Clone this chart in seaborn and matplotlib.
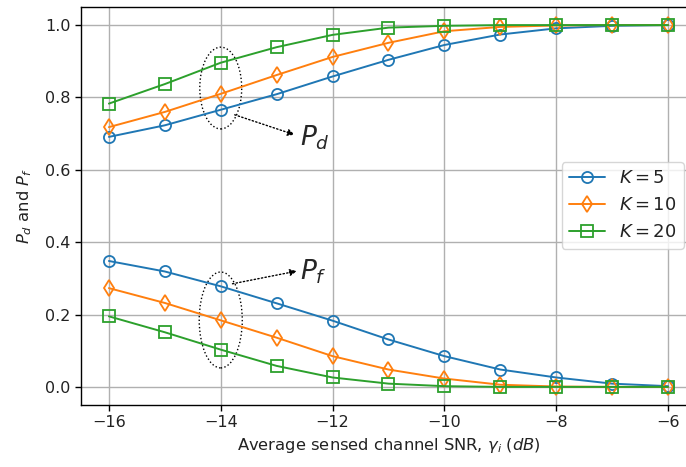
import matplotlib
matplotlib.use("Agg")
import matplotlib.pyplot as plt
from matplotlib.patches import Ellipse
import seaborn as sns
import numpy as np

snr = [-16, -15, -14, -13, -12, -11, -10, -9, -8, -7, -6]
labels = ["$K = 5$", "$K = 10$", "$K = 20$"]
pd_k5 = [0.691, 0.723, 0.766, 0.809, 0.858, 0.904, 0.945, 0.974, 0.991, 0.998, 1.0]
pd_k10 = [0.718, 0.760, 0.810, 0.862, 0.912, 0.951, 0.983, 0.995, 0.999, 1.0, 1.0]
pd_k20 = [0.783, 0.837, 0.896, 0.939, 0.973, 0.993, 0.998, 1.0, 1.0, 1.0, 1.0]
pf_k5 = [0.348, 0.319, 0.278, 0.231, 0.183, 0.131, 0.085, 0.048, 0.026, 0.009, 0.002]
pf_k10 = [0.273, 0.232, 0.184, 0.136, 0.085, 0.048, 0.023, 0.006, 0.001, 0.0, 0.0]
pf_k20 = [0.195, 0.151, 0.103, 0.058, 0.026, 0.009, 0.002, 0.0, 0.0, 0.0, 0.0]

sns.set_style("ticks")
plt.rcParams['font.family'] = ['DejaVu Sans']
plt.rcParams['mathtext.fontset'] = 'dejavusans'

fig = plt.figure(figsize=(6.86, 4.67), dpi=100)
ax = fig.add_axes([0.118, 0.1328, 1.0146 - 0.118, 0.985 - 0.1328])

colors = ['#1f77b4', '#ff7f0e', '#2ca02c']
markers = ['o', 'd', 's']
pds = [pd_k5, pd_k10, pd_k20]
pfs = [pf_k5, pf_k10, pf_k20]

for i in range(3):
    sns.lineplot(x=snr, y=pds[i], ax=ax, color=colors[i], marker=markers[i],
                 markersize=8, markerfacecolor='none', markeredgecolor=colors[i],
                 markeredgewidth=1.3, linewidth=1.4, label=labels[i])
for i in range(3):
    sns.lineplot(x=snr, y=pfs[i], ax=ax, color=colors[i], marker=markers[i],
                 markersize=8, markerfacecolor='none', markeredgecolor=colors[i],
                 markeredgewidth=1.3, linewidth=1.4, legend=False)

ax.set_xlim(-16.5, -5.5)
ax.set_ylim(-0.05, 1.05)
ax.set_xticks([-16, -14, -12, -10, -8, -6])
ax.set_yticks([0.0, 0.2, 0.4, 0.6, 0.8, 1.0])
ax.set_xticklabels(['\u221216', '\u221214', '\u221212', '\u221210', '\u22128', '\u22126'])
ax.set_yticklabels(['0.0', '0.2', '0.4', '0.6', '0.8', '1.0'])
ax.grid(True, color='#b0b0b0', linewidth=1.0)
ax.tick_params(labelsize=11.5, length=4, width=1, color='black', labelcolor='#222222')
for s in ax.spines.values():
    s.set_color('black')
    s.set_linewidth(1.0)

ax.set_xlabel(r"Average sensed channel SNR, $\gamma_i$ $(dB)$", fontsize=11.8, color='#222222')
ax.set_ylabel(r"$P_d$ and $P_f$", fontsize=11.8, color='#222222', labelpad=8)

ax.add_patch(Ellipse((-14, 0.826), 0.75, 0.226, fill=False, linestyle=':', edgecolor='black', linewidth=1.0))
ax.add_patch(Ellipse((-14, 0.185), 0.77, 0.265, fill=False, linestyle=':', edgecolor='black', linewidth=1.0))

ax.annotate("", xy=(-12.68, 0.697), xytext=(-13.75, 0.752),
            arrowprops=dict(arrowstyle='-|>', linestyle=':', color='black', linewidth=1.0,
                            shrinkA=0, shrinkB=0))
ax.text(-12.58, 0.69, r"$P_d$", fontsize=19, va='center', ha='left')
ax.annotate("", xy=(-12.64, 0.32), xytext=(-13.79, 0.285),
            arrowprops=dict(arrowstyle='-|>', linestyle=':', color='black', linewidth=1.0,
                            shrinkA=0, shrinkB=0))
ax.text(-12.58, 0.318, r"$P_f$", fontsize=19, va='center', ha='left')

leg = ax.legend(loc='upper right', bbox_to_anchor=(684 / 686, 1 - 162 / 467),
                bbox_transform=fig.transFigure, fontsize=13, frameon=True,
                handlelength=2.0, borderaxespad=0, labelspacing=0.5, markerscale=1.0)
leg.get_frame().set_edgecolor('#cccccc')
for t in leg.get_texts():
    t.set_color('#222222')

fig.savefig("out.png", dpi=100)
